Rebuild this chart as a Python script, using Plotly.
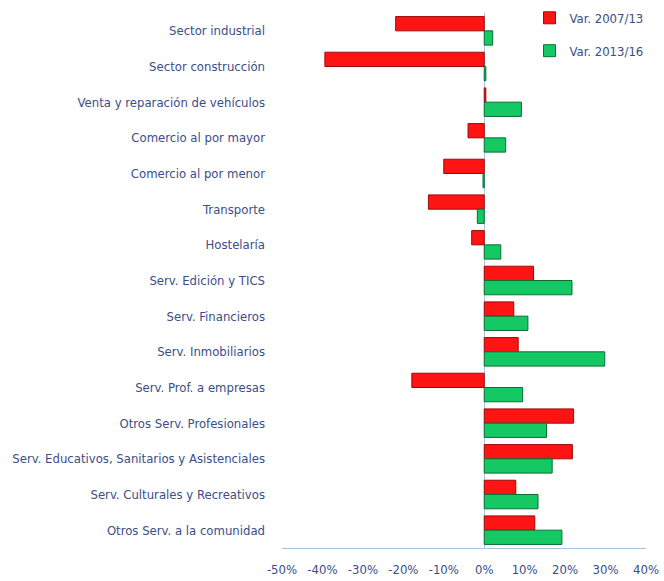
import plotly.graph_objects as go

categories = [
    "Sector industrial",
    "Sector construcción",
    "Venta y reparación de vehículos",
    "Comercio al por mayor",
    "Comercio al por menor",
    "Transporte",
    "Hostelaría",
    "Serv. Edición y TICS",
    "Serv. Financieros",
    "Serv. Inmobiliarios",
    "Serv. Prof. a empresas",
    "Otros Serv. Profesionales",
    "Serv. Educativos, Sanitarios y Asistenciales",
    "Serv. Culturales y Recreativos",
    "Otros Serv. a la comunidad",
]
var_2007_13 = [-21.9, -39.4, 0.4, -4.0, -10.0, -13.8, -3.1, 12.2, 7.3, 8.4, -17.9, 22.1, 21.8, 7.8, 12.5]
var_2013_16 = [2.1, 0.4, 9.2, 5.3, -0.3, -1.7, 4.1, 21.7, 10.8, 29.8, 9.5, 15.4, 16.8, 13.3, 19.2]
tick_vals = [-50, -40, -30, -20, -10, 0, 10, 20, 30, 40]
tick_text = ["-50%", "-40%", "-30%", "-20%", "-10%", "0%", "10%", "20%", "30%", "40%"]

FONT = "DejaVu Sans Condensed, Liberation Sans Narrow, sans-serif"
TXT = "#3B4E87"

fig = go.Figure()
fig.add_trace(go.Bar(
    y=categories, x=var_2007_13, orientation="h", name="Var. 2007/13",
    legendgroup="a",
    marker=dict(color="#FF1414", line=dict(color="#9E0A0A", width=1)),
))
fig.add_trace(go.Bar(
    y=categories, x=var_2013_16, orientation="h", name="Var. 2013/16",
    legendgroup="b",
    marker=dict(color="#14C864", line=dict(color="#0B6E35", width=1)),
))

fig.update_layout(
    width=664, height=581,
    margin=dict(l=282, r=18, t=13, b=33, autoexpand=False),
    barmode="group", bargap=0.2, bargroupgap=0.0,
    plot_bgcolor="white", paper_bgcolor="white",
    font=dict(family=FONT, size=13, color=TXT),
    showlegend=True,
    legend=dict(x=0.68, y=1.019, xanchor="left", yanchor="top",
                bgcolor="rgba(0,0,0,0)", font=dict(size=13, color=TXT),
                tracegroupgap=13, itemwidth=30),
    xaxis=dict(range=[-50, 40], tickvals=tick_vals, ticktext=tick_text,
               showgrid=False, zeroline=True, zerolinecolor="#A8C4E2", zerolinewidth=1,
               showline=True, linecolor="#A8C4E2", linewidth=1, ticks="",
               automargin=False, ticklabelstandoff=9,
               tickfont=dict(size=13, color=TXT)),
    yaxis=dict(autorange="reversed", showgrid=False, ticks="", showline=False,
               automargin=False, ticklabelstandoff=16,
               tickfont=dict(size=13, color=TXT)),
)

fig.write_html(
    "out.html",
    config={"displayModeBar": False},
    post_script="document.body.style.margin='0';document.body.style.overflow='hidden';",
)
